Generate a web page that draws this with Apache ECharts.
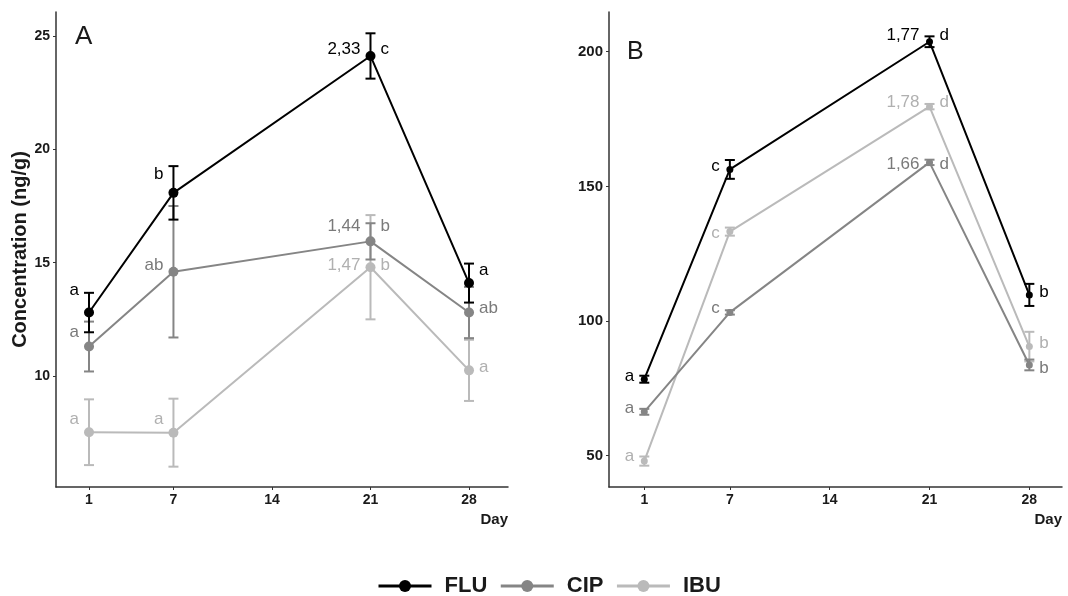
<!DOCTYPE html>
<html>
<head>
<meta charset="utf-8">
<script src="https://cdn.jsdelivr.net/npm/echarts@6/dist/echarts.min.js"></script>
<style>
html,body{margin:0;padding:0;background:#fff;}
#chart{width:1068px;height:596px;}
</style>
</head>
<body>
<div id="chart"></div>
<script>
// ---- data ----
const days = [1, 7, 21, 28];
const xTicks = [1, 7, 14, 21, 28];
const yTicksA = [10, 15, 20, 25];
const yTicksB = [50, 100, 150, 200];
const seriesNames = ['FLU', 'CIP', 'IBU'];

// Panel A
const fluA = [12.8, 18.08, 24.12, 14.1];
const fluAErr = [0.87, 1.18, 1.0, 0.86];
const cipA = [11.3, 14.6, 15.94, 12.8];
const cipAErr = [1.1, 2.9, 0.8, 1.13];
const ibuA = [7.52, 7.5, 14.8, 10.25];
const ibuAErr = [1.45, 1.5, 2.3, 1.35];
const fluALetters = ['a', 'b', 'c', 'a'];
const cipALetters = ['a', 'ab', 'b', 'ab'];
const ibuALetters = ['a', 'a', 'b', 'a'];
const fluARatio = ['', '', '2,33', ''];
const cipARatio = ['', '', '1,44', ''];
const ibuARatio = ['', '', '1,47', ''];
const fluALabY = [13.8, 18.9, 24.42, 14.65];
const cipALabY = [11.92, 14.87, 16.6, 12.98];
const ibuALabY = [8.1, 8.1, 14.87, 10.4];

// Panel B
const fluB = [78.4, 156.3, 203.7, 109.7];
const fluBErr = [1.3, 3.5, 2.0, 4.1];
const cipB = [66.3, 103.2, 158.9, 83.7];
const cipBErr = [1.1, 0.8, 1.0, 2.0];
const ibuB = [48.0, 133.2, 179.6, 90.5];
const ibuBErr = [1.7, 1.5, 1.0, 5.5];
const fluBLetters = ['a', 'c', 'd', 'b'];
const cipBLetters = ['a', 'c', 'd', 'b'];
const ibuBLetters = ['a', 'c', 'd', 'b'];
const fluBRatio = ['', '', '1,77', ''];
const cipBRatio = ['', '', '1,66', ''];
const ibuBRatio = ['', '', '1,78', ''];
const fluBLabY = [79.6, 157.4, 206.2, 110.6];
const cipBLabY = [67.7, 104.6, 158.3, 82.5];
const ibuBLabY = [49.6, 132.4, 181.3, 91.7];

// ---- styling ----
const FONT = 'Liberation Sans, Arial, sans-serif';
const colors = { FLU: '#000000', CIP: '#858585', IBU: '#bababa' };
const textColors = { FLU: '#000000', CIP: '#7a7a7a', IBU: '#b0b0b0' };

const chart = echarts.init(document.getElementById('chart'), null, { renderer: 'canvas' });

function xAxisCfg(gridIndex, min, max) {
  return {
    type: 'value', gridIndex, min, max,
    name: 'Day', nameLocation: 'end', nameGap: 0,
    nameTextStyle: { fontFamily: FONT, fontWeight: 'bold', fontSize: 15, color: '#1a1a1a', align: 'right', verticalAlign: 'top', padding: [25, 0, 0, 0] },
    splitLine: { show: false },
    axisLine: { show: true, onZero: false, lineStyle: { color: '#333', width: 1.5 } },
    axisTick: { show: true, length: 3, customValues: xTicks, lineStyle: { color: '#333', width: 1 } },
    axisLabel: { show: true, customValues: xTicks, margin: 6, fontFamily: FONT, fontWeight: 'bold', fontSize: 14, color: '#1a1a1a' }
  };
}
function yAxisCfg(gridIndex, min, max, ticks, name, fs) {
  return {
    type: 'value', gridIndex, min, max,
    name: name, nameLocation: 'middle', nameGap: 26,
    nameTextStyle: { fontFamily: FONT, fontWeight: 'bold', fontSize: 20, color: '#1a1a1a' },
    splitLine: { show: false },
    axisLine: { show: true, onZero: false, lineStyle: { color: '#333', width: 1.5 } },
    axisTick: { show: true, length: 3, customValues: ticks, lineStyle: { color: '#333', width: 1 } },
    axisLabel: { show: true, customValues: ticks, margin: 6, fontFamily: FONT, fontWeight: 'bold', fontSize: fs, color: '#1a1a1a' }
  };
}

function lineSeries(name, vals, idx, symSize) {
  return {
    type: 'line', name, xAxisIndex: idx, yAxisIndex: idx,
    data: days.map((d, i) => [d, vals[i]]),
    symbol: 'circle', symbolSize: symSize, showSymbol: true,
    lineStyle: { color: colors[name], width: 2 },
    itemStyle: { color: colors[name] },
    emphasis: { disabled: true }, animation: false, z: 3
  };
}
function errSeries(name, vals, errs, idx) {
  return {
    type: 'custom', name: name + ' error', xAxisIndex: idx, yAxisIndex: idx, clip: false,
    data: days.map((d, i) => [d, vals[i] - errs[i], vals[i] + errs[i]]),
    renderItem: function (params, api) {
      const lo = api.coord([api.value(0), api.value(1)]);
      const hi = api.coord([api.value(0), api.value(2)]);
      const hw = 5;
      const st = { stroke: colors[name], lineWidth: 2, fill: null };
      return {
        type: 'group', children: [
          { type: 'line', shape: { x1: lo[0], y1: lo[1], x2: hi[0], y2: hi[1] }, style: st },
          { type: 'line', shape: { x1: lo[0] - hw, y1: lo[1], x2: lo[0] + hw, y2: lo[1] }, style: st },
          { type: 'line', shape: { x1: hi[0] - hw, y1: hi[1], x2: hi[0] + hw, y2: hi[1] }, style: st }
        ]
      };
    },
    animation: false, z: 2
  };
}
function labelSeries(name, labY, letters, ratios, idx) {
  return {
    type: 'custom', name: name + ' labels', xAxisIndex: idx, yAxisIndex: idx, clip: false,
    data: days.map((d, i) => [d, labY[i]]),
    renderItem: function (params, api) {
      const i = params.dataIndex;
      const p = api.coord([api.value(0), api.value(1)]);
      const left = api.value(0) < 14;
      const children = [];
      const base = { fontFamily: FONT, fontSize: 17, fill: textColors[name], verticalAlign: 'middle' };
      children.push({ type: 'text', x: left ? p[0] - 10 : p[0] + 10, y: p[1],
        style: Object.assign({}, base, { text: letters[i], align: left ? 'right' : 'left' }) });
      if (ratios[i]) {
        children.push({ type: 'text', x: p[0] - 10, y: p[1],
          style: Object.assign({}, base, { text: ratios[i], align: 'right' }) });
      }
      return { type: 'group', children };
    },
    animation: false, z: 4
  };
}

const series = [];
const panels = [
  { idx: 0, vals: [ibuA, cipA, fluA], errs: [ibuAErr, cipAErr, fluAErr], labY: [ibuALabY, cipALabY, fluALabY],
    letters: [ibuALetters, cipALetters, fluALetters], ratios: [ibuARatio, cipARatio, fluARatio], sym: 10 },
  { idx: 1, vals: [ibuB, cipB, fluB], errs: [ibuBErr, cipBErr, fluBErr], labY: [ibuBLabY, cipBLabY, fluBLabY],
    letters: [ibuBLetters, cipBLetters, fluBLetters], ratios: [ibuBRatio, cipBRatio, fluBRatio], sym: 7 }
];
const drawOrder = ['IBU', 'CIP', 'FLU'];
panels.forEach(p => {
  drawOrder.forEach((nm, k) => {
    series.push(lineSeries(nm, p.vals[k], p.idx, p.sym));
    series.push(errSeries(nm, p.vals[k], p.errs[k], p.idx));
    series.push(labelSeries(nm, p.labY[k], p.letters[k], p.ratios[k], p.idx));
  });
});

chart.setOption({
  animation: false,
  backgroundColor: '#ffffff',
  grid: [
    { left: 56, top: 12, width: 452, height: 475 },
    { left: 609, top: 12, width: 453, height: 475 }
  ],
  xAxis: [xAxisCfg(0, -1.345, 30.77), xAxisCfg(1, -1.475, 30.29)],
  yAxis: [
    yAxisCfg(0, 5.103, 26.06, yTicksA, 'Concentration (ng/g)', 14),
    yAxisCfg(1, 38.38, 214.74, yTicksB, '', 15)
  ],
  legend: {
    data: seriesNames, left: 377, top: 575, padding: 0, itemWidth: 53, itemHeight: 15, itemGap: 12,
    lineStyle: { width: 3 },
    textStyle: { fontFamily: FONT, fontWeight: 'bold', fontSize: 22, color: '#1a1a1a', padding: [0, 0, 0, 8] },
    selectedMode: false
  },
  graphic: [
    { type: 'text', left: 75, top: 24, style: { text: 'A', fontFamily: FONT, fontSize: 26, fill: '#1a1a1a' } },
    { type: 'text', left: 627, top: 40, style: { text: 'B', fontFamily: FONT, fontSize: 25, fill: '#1a1a1a' } }
  ],
  series
});
</script>
</body>
</html>
